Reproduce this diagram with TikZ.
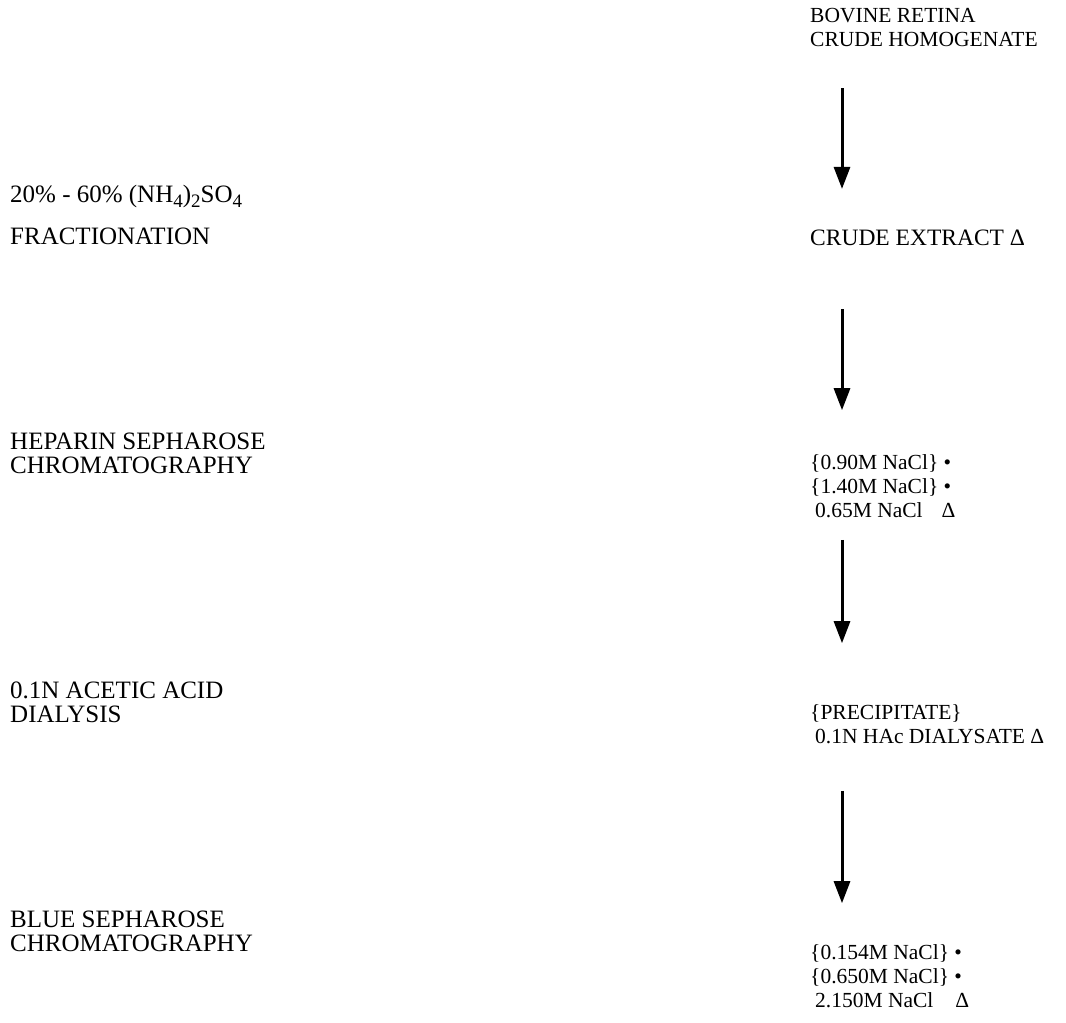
\documentclass[tikz,border=0pt]{standalone}
\usepackage{fontspec}
\setmainfont{Liberation Serif}
\usetikzlibrary{arrows.meta}
\newcommand{\lowsub}[1]{\raisebox{-5pt}{\fontsize{19}{19}\selectfont #1}}

\begin{document}
\begin{tikzpicture}[x=1pt,y=-1pt,font=\fontsize{21.5}{24}\selectfont,
	every node/.style={inner sep=0pt,anchor=west,align=left},
	stepnote/.style={font=\fontsize{25}{24}\selectfont},
	flow/.style={line width=3pt,-{Triangle[width=16pt,length=22pt]}}]
	\useasboundingbox (0,0) rectangle (1066,1023);
	% products
	\node	(homog)		at (810,27)	{BOVINE RETINA\\CRUDE HOMOGENATE};
	\node[font=\fontsize{23.5}{24}\selectfont]	(extract)	at (810,238)	{CRUDE EXTRACT Δ};
	\node	(heparin)	at (810,486)	{\{0.90M NaCl\} •\\\{1.40M NaCl\} •\\\hspace*{5pt}0.65M NaCl\hspace*{19pt}Δ};
	\node	(dialysate)	at (810,724)	{\{PRECIPITATE\}\\\hspace*{5pt}0.1N HAc DIALYSATE Δ};
	\node	(blue)		at (810,976)	{\{0.154M NaCl\} •\\\{0.650M NaCl\} •\\\hspace*{5pt}2.150M NaCl\hspace*{22pt}Δ};
	% steps
	\node[stepnote]	(ammon)		at (10,215)	{20\% - 60\% (NH\lowsub{4})\lowsub{2}SO\lowsub{4}\\[18pt]FRACTIONATION};
	\node[stepnote]	(hepstep)	at (10,453)	{HEPARIN SEPHAROSE\\CHROMATOGRAPHY};
	\node[stepnote]	(acid)		at (10,702)	{0.1N ACETIC ACID\\DIALYSIS};
	\node[stepnote]	(bluestep)	at (10,931)	{BLUE SEPHAROSE\\CHROMATOGRAPHY};
	\draw[flow,shorten <=42pt,shorten >=41pt]
		([xshift=32pt]homog.south west) -- ([xshift=32pt]extract.north west);
	\draw[flow,shorten <=63pt,shorten >=44pt]
		([xshift=32pt]extract.south west) -- ([xshift=32pt]heparin.north west);
	\draw[flow,shorten <=22pt,shorten >=61pt]
		([xshift=32pt]heparin.south west) -- ([xshift=32pt]dialysate.north west);
	\draw[flow,shorten <=47pt,shorten >=41pt]
		([xshift=32pt]dialysate.south west) -- ([xshift=32pt]blue.north west);
\end{tikzpicture}
\end{document}
